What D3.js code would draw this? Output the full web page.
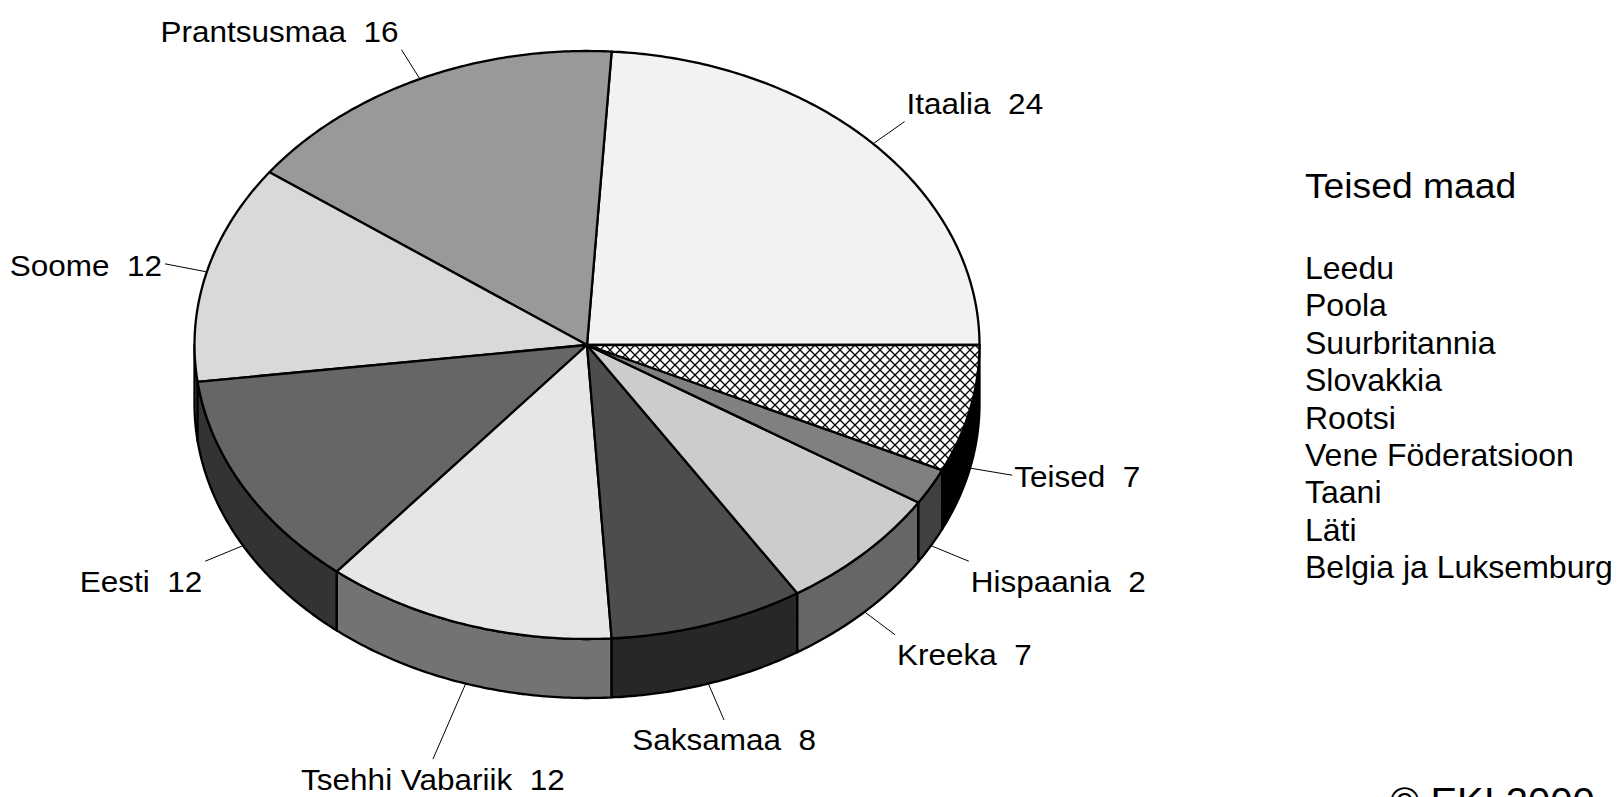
<!DOCTYPE html>
<html>
<head>
<meta charset="utf-8">
<title>Teised maad</title>
<script src="https://cdn.jsdelivr.net/npm/d3@7"></script>
<style>
  body { margin: 0; background: #fff; }
  svg { display: block; font-family: "Liberation Sans", Arial, sans-serif; }
</style>
</head>
<body>
<div id="chart"></div>
<script>
// data (percent)
const countries = ["Itaalia", "Prantsusmaa", "Soome", "Eesti", "Tsehhi Vabariik", "Saksamaa", "Kreeka", "Hispaania", "Teised"];
const shares = [24, 16, 12, 12, 12, 8, 7, 2, 7];
const legendTitle = "Teised maad";
const otherCountries = ["Leedu", "Poola", "Suurbritannia", "Slovakkia", "Rootsi", "Vene Föderatsioon", "Taani", "Läti", "Belgia ja Luksemburg"];
const copyright = "© EKI 2000";

// greys for the top faces, the walls are drawn at half the brightness
const topFill = ["#f2f2f2", "#999999", "#d9d9d9", "#666666", "#e6e6e6", "#4d4d4d", "#cccccc", "#808080", "url(#hatch)"];

const width = 1619, height = 797;
const cx = 587, cy = 345, rx = 392.5, ry = 294, depth = 59;
const fontSize = 30, stretch = 1.05;

const svg = d3.select("#chart").append("svg")
	.attr("width", width)
	.attr("height", height);

const hatch = 10;
const pat = svg.append("defs").append("pattern")
	.attr("id", "hatch")
	.attr("width", hatch).attr("height", hatch)
	.attr("patternUnits", "userSpaceOnUse");
pat.append("rect").attr("width", hatch).attr("height", hatch).attr("fill", "#fff");
pat.append("path")
	.attr("d", `M0,0L${hatch},${hatch}M${hatch},0L0,${hatch}`)
	.attr("stroke", "#000")
	.attr("stroke-width", 1.3);

const slices = shares.map((v, i) => ({ name: countries[i], share: v, i: i }));

// counterclockwise from 3 o'clock
const pie = d3.pie()
	.sort(null)
	.value(d => d.share)
	.startAngle(Math.PI / 2)
	.endAngle(Math.PI / 2 - 2 * Math.PI);

const arcs = pie(slices);

// d3 angle (0 = up, clockwise) onto the tilted ellipse
const px = a => cx + rx * Math.sin(a);
const py = a => cy - ry * Math.cos(a);

const arcPts = function (a0, a1, dy) {
	const n = Math.max(2, Math.ceil(Math.abs(a1 - a0) / 0.01));
	return d3.range(n + 1).map(function (k) {
		const a = a0 + (a1 - a0) * k / n;
		return [px(a), py(a) + dy];
	});
};

const line = d3.line();

const sideFill = function (i) {
	if (topFill[i].startsWith("url")) return "#000";
	const c = d3.rgb(topFill[i]);
	return d3.rgb(c.r * 0.5, c.g * 0.5, c.b * 0.5).formatHex();
};

// walls, only the front half is seen
const frontLo = -3 * Math.PI / 2, frontHi = -Math.PI / 2;
const walls = svg.append("g");
arcs.forEach(function (d) {
	const lo = Math.max(d.endAngle, frontLo);
	const hi = Math.min(d.startAngle, frontHi);
	if (hi <= lo) return;
	const pts = arcPts(hi, lo, 0).concat(arcPts(lo, hi, depth));
	walls.append("path")
		.attr("d", line(pts) + "Z")
		.attr("fill", sideFill(d.data.i))
		.attr("stroke", "#000")
		.attr("stroke-width", 2.3)
		.attr("stroke-linejoin", "round");
});

// top faces
svg.append("g").selectAll("path")
	.data(arcs)
	.join("path")
		.attr("d", d => line([[cx, cy]].concat(arcPts(d.startAngle, d.endAngle, 0))) + "Z")
		.attr("fill", d => topFill[d.data.i])
		.attr("stroke", "#000")
		.attr("stroke-width", 2.3)
		.attr("stroke-linejoin", "round");

// labels with leader lines
const reach = 1.11;
const longReach = { "Tsehhi Vabariik": 1.27, "Saksamaa": 1.13 };
const labels = svg.append("g");
arcs.forEach(function (d) {
	const mid = (d.startAngle + d.endAngle) / 2;
	const s = Math.sin(mid), c = Math.cos(mid);
	const dy = c < 0 ? depth : 0;
	const f = longReach[d.data.name] || reach;
	const x0 = px(mid), y0 = py(mid) + dy;
	const x1 = cx + rx * f * s, y1 = cy - ry * f * c + dy;

	labels.append("line")
		.attr("x1", x0).attr("y1", y0)
		.attr("x2", x1).attr("y2", y1)
		.attr("stroke", "#000")
		.attr("stroke-width", 1);

	let anchor = s > 0 ? "start" : "end";
	let tx = x1 + (s > 0 ? 2 : -3), ty;
	if (c > 0.3) {
		ty = y1 - 8;
	} else if (c < -0.3) {
		ty = y1 + 9 + 0.716 * fontSize;
		if (Math.abs(s) < 0.4) { anchor = "middle"; tx = x1; }
	} else {
		ty = y1 + 0.4 * fontSize;
	}

	labels.append("text")
		.attr("transform", `translate(${tx},${ty}) scale(${stretch},1)`)
		.attr("text-anchor", anchor)
		.attr("font-size", fontSize)
		.attr("fill", "#000")
		.style("white-space", "pre")
		.text(d.data.name + "  " + d.data.share);
});

// list of the other countries
const legend = svg.append("g").attr("transform", "translate(1305,0)");
legend.append("text")
	.attr("transform", `translate(0,198) scale(${stretch},1)`)
	.attr("font-size", 35.5)
	.text(legendTitle);

legend.selectAll("text.item")
	.data(otherCountries)
	.join("text")
		.attr("class", "item")
		.attr("transform", (d, i) => `translate(0,${279 + i * 37.4}) scale(${stretch},1)`)
		.attr("font-size", 30.5)
		.text(d => d);

// the credit line sits on the bottom edge and is cut there, as in the original
svg.append("text")
	.attr("transform", `translate(1390,815) scale(${stretch},1)`)
	.attr("font-size", 38)
	.text(copyright);
</script>
</body>
</html>
